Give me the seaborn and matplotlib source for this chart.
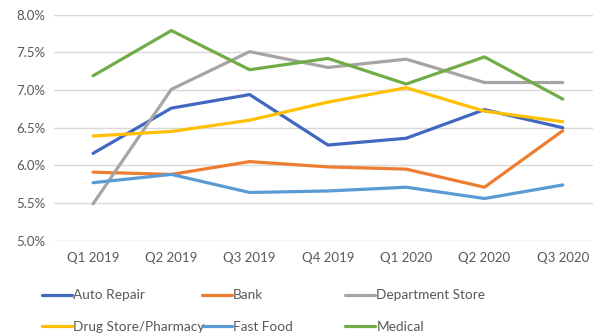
import pandas as pd
import seaborn as sns
import matplotlib.pyplot as plt
from matplotlib.ticker import PercentFormatter

# Quarter labels and series values (percent)
quarters = ["Q1 2019", "Q2 2019", "Q3 2019", "Q4 2019", "Q1 2020", "Q2 2020", "Q3 2020"]
auto_repair = [6.16, 6.76, 6.94, 6.27, 6.36, 6.74, 6.50]
bank = [5.91, 5.88, 6.05, 5.98, 5.95, 5.71, 6.46]
department_store = [5.49, 7.01, 7.51, 7.30, 7.41, 7.10, 7.10]
drug_store = [6.39, 6.45, 6.60, 6.84, 7.03, 6.72, 6.58]
fast_food = [5.77, 5.88, 5.64, 5.66, 5.71, 5.56, 5.74]
medical = [7.19, 7.79, 7.27, 7.42, 7.08, 7.44, 6.88]

series_names = ["Auto Repair", "Bank", "Department Store",
                "Drug Store/Pharmacy", "Fast Food", "Medical"]
series_values = [auto_repair, bank, department_store, drug_store, fast_food, medical]
colors = ["#4068C0", "#ED7D31", "#A5A5A5", "#FFC000", "#5B9BD5", "#70AD47"]

# Long-form table for seaborn
rows = []
for name, vals in zip(series_names, series_values):
    for q, v in zip(quarters, vals):
        rows.append({"Quarter": q, "Series": name, "Value": v})
df = pd.DataFrame(rows)

sns.set_style("white")
plt.rcParams['font.family'] = ['Lato', 'DejaVu Sans']

fig = plt.figure(figsize=(5.93, 3.35), dpi=100)
ax = fig.add_axes([0.091, 0.2815, 0.924, 0.6745])

sns.lineplot(data=df, x="Quarter", y="Value", hue="Series", hue_order=series_names,
             palette=colors, linewidth=2.3, sort=False, ax=ax, legend=False)

ax.set_ylim(5.0, 8.0)
ax.set_xlim(-0.5, 6.5)
ax.set_yticks([5.0, 5.5, 6.0, 6.5, 7.0, 7.5, 8.0])
ax.yaxis.set_major_formatter(PercentFormatter(decimals=1))
ax.grid(axis="y", color="#D9D9D9", linewidth=1.0)
ax.set_axisbelow(True)
for s in ax.spines.values():
    s.set_visible(False)
ax.tick_params(axis="both", length=0, labelsize=9.5, labelcolor="#595959", pad=8)
ax.tick_params(axis="y", pad=6)
ax.set_xlabel("")
ax.set_ylabel("")

# Legend in three columns, placed like the original
lines = ax.get_lines()
col_x = [0.071, 0.340, 0.582]
for i, x in enumerate(col_x):
    handles = [lines[i], lines[i + 3]]
    labels = [series_names[i], series_names[i + 3]]
    fig.legend(handles, labels, loc="upper left", bbox_to_anchor=(x, 0.136),
               frameon=False, fontsize=9.8, labelcolor="#595959",
               handlelength=2.2, handletextpad=0.1, labelspacing=1.45,
               borderaxespad=0, borderpad=0)

fig.savefig("out.png", dpi=100)
